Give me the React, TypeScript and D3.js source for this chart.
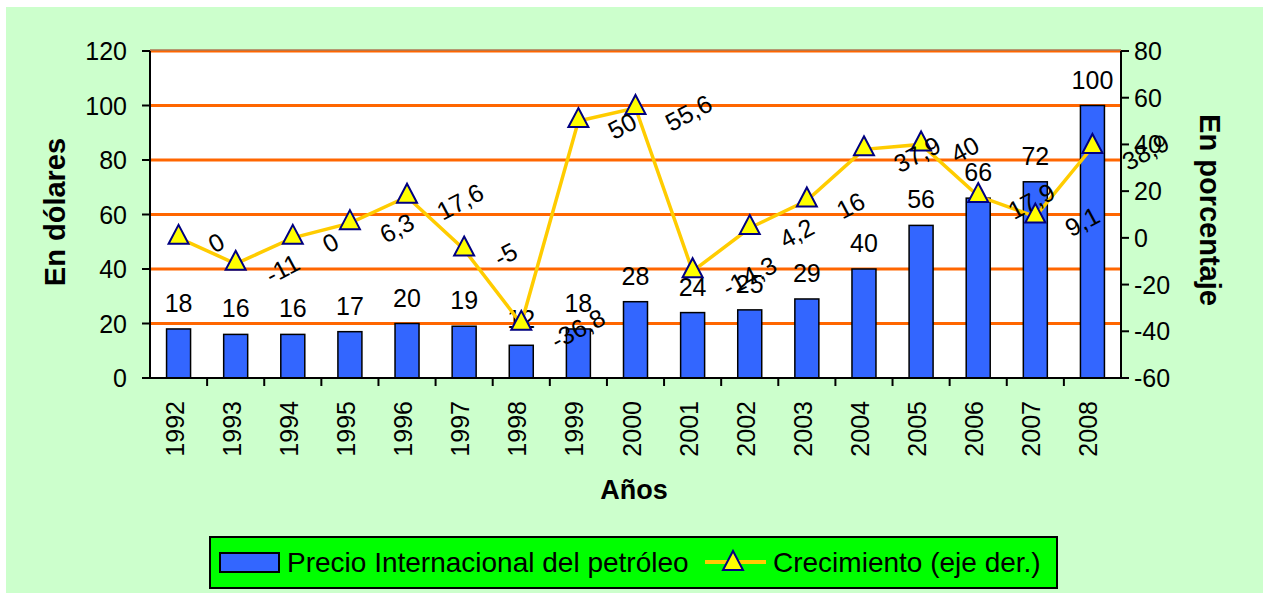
import React, { useEffect, useRef } from 'react';
import * as d3 from 'd3';

const years = ['1992', '1993', '1994', '1995', '1996', '1997', '1998', '1999', '2000', '2001', '2002', '2003', '2004', '2005', '2006', '2007', '2008'];
const prices = [18, 16, 16, 17, 20, 19, 12, 18, 28, 24, 25, 29, 40, 56, 66, 72, 100];
const growth = [0, -11.1, 0, 6.3, 17.6, -5, -36.8, 50, 55.6, -14.3, 4.2, 16, 37.9, 40, 17.9, 9.1, 38.9];
const growthLabels = ['0', '-11', '0', '6,3', '17,6', '-5', '-36,8', '50', '55,6', '-14,3', '4,2', '16', '37,9', '40', '17,9', '9,1', '38,9'];
const leftTicks = [0, 20, 40, 60, 80, 100, 120];
const rightTicks = [-60, -40, -20, 0, 20, 40, 60, 80];

const FONT = '"Liberation Sans", Arial, sans-serif';
const W = 1263;
const H = 593;

const App = () => {
  const ref = useRef<SVGSVGElement>(null);

  useEffect(() => {
    const svg = d3.select(ref.current);
    svg.selectAll('*').remove();

    const plot = { left: 150, right: 1121, top: 51, bottom: 378 };

    const x = d3.scaleBand().domain(years).range([plot.left, plot.right]);
    const y = d3.scaleLinear().domain([0, 120]).range([plot.bottom, plot.top]);
    const y2 = d3.scaleLinear().domain([-60, 80]).range([plot.bottom, plot.top]);
    const cx = (i: number) => (x(years[i]) as number) + x.bandwidth() / 2;

    // backgrounds
    svg.append('rect').attr('width', W).attr('height', H).attr('fill', '#ffffff');
    svg.append('rect').attr('x', 6).attr('y', 7).attr('width', W - 6).attr('height', H - 7).attr('fill', '#CCFFCC');
    svg.append('rect')
      .attr('x', plot.left).attr('y', plot.top)
      .attr('width', plot.right - plot.left).attr('height', plot.bottom - plot.top)
      .attr('fill', '#ffffff');

    // gridlines
    svg.append('g')
      .selectAll('line')
      .data(leftTicks.filter(d => d > 0))
      .enter()
      .append('line')
      .attr('x1', plot.left).attr('x2', plot.right)
      .attr('y1', d => y(d)).attr('y2', d => y(d))
      .attr('stroke', '#FF6600')
      .attr('stroke-width', 3);
    svg.append('line')
      .attr('x1', plot.left).attr('x2', plot.right)
      .attr('y1', plot.top - 1).attr('y2', plot.top - 1)
      .attr('stroke', '#808080').attr('stroke-width', 1);

    // bars
    const bw = 24;
    svg.append('g')
      .selectAll('rect')
      .data(prices)
      .enter()
      .append('rect')
      .attr('x', (d, i) => cx(i) - bw / 2)
      .attr('y', d => y(d))
      .attr('width', bw)
      .attr('height', d => y(0) - y(d))
      .attr('fill', '#3366FF')
      .attr('stroke', '#000000')
      .attr('stroke-width', 1.5);

    // axes lines
    const axisG = svg.append('g').attr('stroke', '#000').attr('stroke-width', 2);
    axisG.append('line').attr('x1', plot.left).attr('x2', plot.left).attr('y1', plot.top).attr('y2', plot.bottom + 1);
    axisG.append('line').attr('x1', plot.right).attr('x2', plot.right).attr('y1', plot.top).attr('y2', plot.bottom + 1);
    axisG.append('line').attr('x1', plot.left).attr('x2', plot.right).attr('y1', plot.bottom).attr('y2', plot.bottom);

    // left ticks
    leftTicks.forEach(t => {
      axisG.append('line').attr('x1', plot.left - 8).attr('x2', plot.left).attr('y1', y(t)).attr('y2', y(t));
      svg.append('text')
        .attr('x', plot.left - 23).attr('y', y(t)).attr('dy', '0.36em')
        .attr('text-anchor', 'end')
        .style('font-family', FONT).style('font-size', '25px')
        .text(t);
    });

    // right ticks
    rightTicks.forEach(t => {
      axisG.append('line').attr('x1', plot.right).attr('x2', plot.right + 8).attr('y1', y2(t)).attr('y2', y2(t));
      svg.append('text')
        .attr('x', plot.right + 13).attr('y', y2(t)).attr('dy', '0.36em')
        .attr('text-anchor', 'start')
        .style('font-family', FONT).style('font-size', '25px')
        .text(t);
    });

    // x ticks at band edges
    years.forEach((yr, i) => {
      if (i > 0) {
        const bx = x(yr) as number;
        axisG.append('line').attr('x1', bx).attr('x2', bx).attr('y1', plot.bottom).attr('y2', plot.bottom + 8);
      }
      svg.append('text')
        .attr('transform', `translate(${cx(i) + 5},${plot.bottom + 23}) rotate(-90)`)
        .attr('text-anchor', 'end')
        .style('font-family', FONT).style('font-size', '25px')
        .text(yr);
    });

    // bar labels
    svg.append('g')
      .selectAll('text')
      .data(prices)
      .enter()
      .append('text')
      .attr('x', (d, i) => cx(i))
      .attr('y', d => y(d) - 17)
      .attr('text-anchor', 'middle')
      .style('font-family', FONT).style('font-size', '25px')
      .text(d => d);

    // growth line
    const line = d3.line<number>()
      .x((d, i) => cx(i))
      .y(d => y2(d));
    svg.append('path')
      .datum(growth)
      .attr('fill', 'none')
      .attr('stroke', '#FFCC00')
      .attr('stroke-width', 3.5)
      .attr('d', line);

    const tri = 'M0,-13L10,6L-10,6Z';
    svg.append('g')
      .selectAll('path')
      .data(growth)
      .enter()
      .append('path')
      .attr('transform', (d, i) => `translate(${cx(i)},${y2(d)})`)
      .attr('d', tri)
      .attr('fill', '#FFFF00')
      .attr('stroke', '#000080')
      .attr('stroke-width', 2);

    // growth labels, rotated, placed to the right of each point
    const ang = 28;
    const rad = (ang * Math.PI) / 180;
    growth.forEach((g, i) => {
      const t = svg.append('text')
        .attr('text-anchor', 'middle')
        .attr('dy', '0.35em')
        .style('font-family', FONT).style('font-size', '25px')
        .text(growthLabels[i]);
      const w = (t.node() as SVGTextElement).getComputedTextLength();
      const bbw = w * Math.cos(rad) + 24 * Math.sin(rad);
      const lx = cx(i) + 26 + bbw / 2;
      const ly = y2(g) + 5;
      t.attr('transform', `translate(${lx},${ly}) rotate(${-ang})`);
    });

    // axis titles
    svg.append('text')
      .attr('transform', `translate(${55},${212}) rotate(-90)`)
      .attr('text-anchor', 'middle').attr('dy', '0.35em')
      .style('font-family', FONT).style('font-size', '29px').style('font-weight', 'bold')
      .text('En dólares');
    svg.append('text')
      .attr('transform', `translate(${1210},${210}) rotate(90)`)
      .attr('text-anchor', 'middle').attr('dy', '0.35em')
      .style('font-family', FONT).style('font-size', '29px').style('font-weight', 'bold')
      .text('En porcentaje');
    svg.append('text')
      .attr('x', 634).attr('y', 499)
      .attr('text-anchor', 'middle')
      .style('font-family', FONT).style('font-size', '27px').style('font-weight', 'bold')
      .text('Años');

    // legend
    const lg = svg.append('g');
    lg.append('rect')
      .attr('x', 210).attr('y', 537).attr('width', 847).attr('height', 51)
      .attr('fill', '#00FF00').attr('stroke', '#000').attr('stroke-width', 2);
    lg.append('rect')
      .attr('x', 220).attr('y', 553).attr('width', 59).attr('height', 19)
      .attr('fill', '#3366FF').attr('stroke', '#000').attr('stroke-width', 2);
    lg.append('text')
      .attr('x', 287).attr('y', 572)
      .style('font-family', FONT).style('font-size', '28px')
      .text('Precio Internacional del petróleo');
    lg.append('line')
      .attr('x1', 705).attr('x2', 766).attr('y1', 562).attr('y2', 562)
      .attr('stroke', '#FFCC00').attr('stroke-width', 4);
    lg.append('path')
      .attr('transform', 'translate(733,564)')
      .attr('d', tri)
      .attr('fill', '#FFFF00').attr('stroke', '#000080').attr('stroke-width', 2);
    lg.append('text')
      .attr('x', 773).attr('y', 572)
      .style('font-family', FONT).style('font-size', '28px')
      .text('Crecimiento (eje der.)');
  }, []);

  return (
    <svg
      ref={ref}
      width={W}
      height={H}
      style={{ position: 'absolute', left: 0, top: 0, display: 'block' }}
    ></svg>
  );
};

export default App;
